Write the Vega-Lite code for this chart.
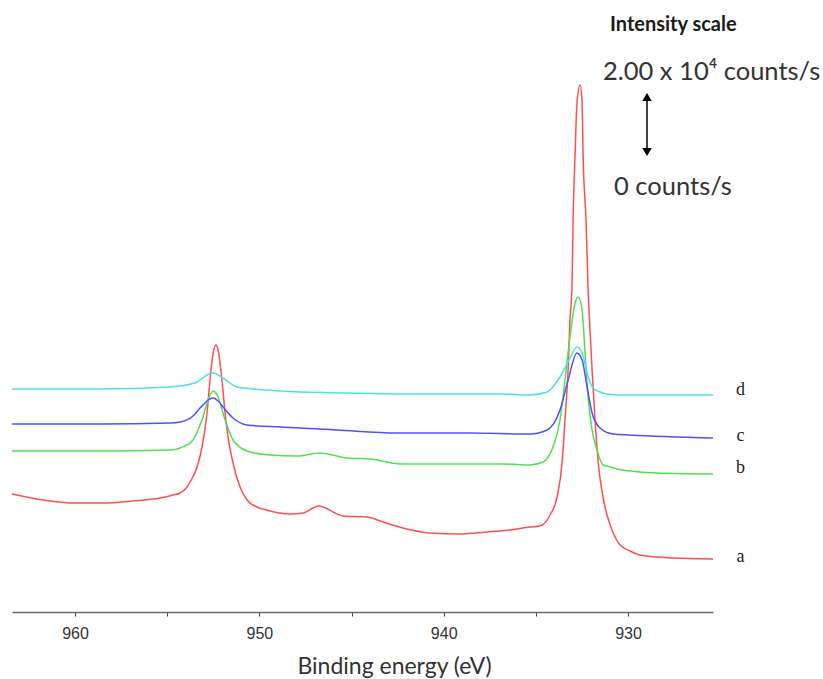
{
  "$schema": "https://vega.github.io/schema/vega-lite/v6.json",
  "autosize": "none",
  "width": 701,
  "height": 612,
  "padding": {"left": 12, "top": 0, "right": 110, "bottom": 67},
  "background": "white",
  "config": {"view": {"stroke": null}},
  "datasets": {
    "curves": [
      {"s":"a","e":963.42,"i":118},{"s":"a","e":961.36,"i":111},{"s":"a","e":960.11,"i":109},{"s":"a","e":958.64,"i":109},{"s":"a","e":956.85,"i":111},{"s":"a","e":955.39,"i":114},{"s":"a","e":954.68,"i":117},{"s":"a","e":954.30,"i":119},{"s":"a","e":953.92,"i":125},{"s":"a","e":953.76,"i":130},{"s":"a","e":953.38,"i":145},{"s":"a","e":953.11,"i":165},{"s":"a","e":952.84,"i":199},{"s":"a","e":952.68,"i":232},{"s":"a","e":952.51,"i":259},{"s":"a","e":952.35,"i":267},{"s":"a","e":952.24,"i":262},{"s":"a","e":952.03,"i":232},{"s":"a","e":951.86,"i":199},{"s":"a","e":951.70,"i":175},{"s":"a","e":951.43,"i":149},{"s":"a","e":951.05,"i":125},{"s":"a","e":950.67,"i":112},{"s":"a","e":950.13,"i":105},{"s":"a","e":949.42,"i":101},{"s":"a","e":948.88,"i":99},{"s":"a","e":948.34,"i":98},{"s":"a","e":947.63,"i":99},{"s":"a","e":947.09,"i":104},{"s":"a","e":946.75,"i":106},{"s":"a","e":946.40,"i":104},{"s":"a","e":946.00,"i":100},{"s":"a","e":945.46,"i":96},{"s":"a","e":944.16,"i":95},{"s":"a","e":943.29,"i":90},{"s":"a","e":942.21,"i":84},{"s":"a","e":940.74,"i":79},{"s":"a","e":939.28,"i":78},{"s":"a","e":937.65,"i":80},{"s":"a","e":936.40,"i":82},{"s":"a","e":935.32,"i":85},{"s":"a","e":934.77,"i":86},{"s":"a","e":934.23,"i":97},{"s":"a","e":933.85,"i":115},{"s":"a","e":933.58,"i":149},{"s":"a","e":933.42,"i":192},{"s":"a","e":933.25,"i":242},{"s":"a","e":933.15,"i":292},{"s":"a","e":933.04,"i":325},{"s":"a","e":932.98,"i":392},{"s":"a","e":932.87,"i":459},{"s":"a","e":932.77,"i":509},{"s":"a","e":932.60,"i":527},{"s":"a","e":932.49,"i":509},{"s":"a","e":932.44,"i":459},{"s":"a","e":932.28,"i":392},{"s":"a","e":932.17,"i":325},{"s":"a","e":932.06,"i":282},{"s":"a","e":931.95,"i":242},{"s":"a","e":931.79,"i":192},{"s":"a","e":931.62,"i":150},{"s":"a","e":931.36,"i":115},{"s":"a","e":931.14,"i":97},{"s":"a","e":930.87,"i":82},{"s":"a","e":930.43,"i":67},{"s":"a","e":929.89,"i":61},{"s":"a","e":929.35,"i":57},{"s":"a","e":927.56,"i":54},{"s":"a","e":925.39,"i":53},

      {"s":"b","e":963.42,"i":161},{"s":"b","e":958.64,"i":161},{"s":"b","e":954.85,"i":162},{"s":"b","e":954.30,"i":164},{"s":"b","e":953.60,"i":172},{"s":"b","e":953.22,"i":187},{"s":"b","e":953.11,"i":192},{"s":"b","e":952.78,"i":212},{"s":"b","e":952.51,"i":221},{"s":"b","e":952.24,"i":215},{"s":"b","e":951.86,"i":192},{"s":"b","e":951.43,"i":172},{"s":"b","e":950.67,"i":161},{"s":"b","e":949.42,"i":157},{"s":"b","e":947.96,"i":156},{"s":"b","e":946.71,"i":159},{"s":"b","e":945.24,"i":154},{"s":"b","e":944.00,"i":153},{"s":"b","e":942.21,"i":148},{"s":"b","e":939.49,"i":148},{"s":"b","e":936.78,"i":148},{"s":"b","e":935.32,"i":147},{"s":"b","e":934.61,"i":150},{"s":"b","e":934.07,"i":165},{"s":"b","e":933.69,"i":192},{"s":"b","e":933.42,"i":232},{"s":"b","e":933.15,"i":275},{"s":"b","e":932.87,"i":309},{"s":"b","e":932.71,"i":315},{"s":"b","e":932.49,"i":302},{"s":"b","e":932.33,"i":259},{"s":"b","e":932.17,"i":215},{"s":"b","e":931.95,"i":182},{"s":"b","e":931.68,"i":162},{"s":"b","e":931.36,"i":147},{"s":"b","e":931.14,"i":146},{"s":"b","e":930.60,"i":143},{"s":"b","e":928.43,"i":139},{"s":"b","e":925.39,"i":138},

      {"s":"c","e":963.42,"i":188},{"s":"c","e":958.64,"i":188},{"s":"c","e":954.85,"i":189},{"s":"c","e":954.30,"i":190},{"s":"c","e":953.60,"i":196},{"s":"c","e":953.22,"i":204},{"s":"c","e":953.06,"i":207},{"s":"c","e":952.78,"i":212},{"s":"c","e":952.51,"i":214},{"s":"c","e":952.24,"i":211},{"s":"c","e":951.97,"i":205},{"s":"c","e":951.43,"i":194},{"s":"c","e":950.67,"i":187},{"s":"c","e":948.88,"i":185},{"s":"c","e":945.79,"i":182},{"s":"c","e":942.53,"i":179},{"s":"c","e":938.57,"i":179},{"s":"c","e":935.32,"i":178},{"s":"c","e":934.39,"i":182},{"s":"c","e":933.69,"i":202},{"s":"c","e":933.25,"i":232},{"s":"c","e":932.77,"i":259},{"s":"c","e":932.49,"i":252},{"s":"c","e":932.22,"i":225},{"s":"c","e":931.95,"i":199},{"s":"c","e":931.52,"i":184},{"s":"c","e":930.81,"i":178},{"s":"c","e":929.89,"i":177},{"s":"c","e":925.39,"i":174},

      {"s":"d","e":963.42,"i":223},{"s":"d","e":958.64,"i":223},{"s":"d","e":954.85,"i":225},{"s":"d","e":954.30,"i":226},{"s":"d","e":953.38,"i":230},{"s":"d","e":952.84,"i":237},{"s":"d","e":952.51,"i":239},{"s":"d","e":951.97,"i":234},{"s":"d","e":951.21,"i":225},{"s":"d","e":950.34,"i":223},{"s":"d","e":948.88,"i":221},{"s":"d","e":945.24,"i":219},{"s":"d","e":942.21,"i":218},{"s":"d","e":936.78,"i":218},{"s":"d","e":935.32,"i":217},{"s":"d","e":934.39,"i":220},{"s":"d","e":933.69,"i":235},{"s":"d","e":933.15,"i":254},{"s":"d","e":932.77,"i":265},{"s":"d","e":932.49,"i":259},{"s":"d","e":932.22,"i":239},{"s":"d","e":931.90,"i":224},{"s":"d","e":931.52,"i":220},{"s":"d","e":931.14,"i":218},{"s":"d","e":930.43,"i":217},{"s":"d","e":925.39,"i":217}
    ],
    "labels": [
      {"s":"a","e":923.9,"i":55},
      {"s":"b","e":923.9,"i":144},
      {"s":"c","e":923.9,"i":176},
      {"s":"d","e":923.9,"i":222}
    ],
    "title": [
      {"t":"Intensity scale","e":930.98,"i":587}
    ],
    "notes": [
      {"t":"2.00 x 10⁴ counts/s","e":931.36,"i":540},
      {"t":"0 counts/s","e":930.76,"i":425}
    ],
    "arrow": [
      {"e":928.97,"i1":514,"i2":461}
    ],
    "heads": [
      {"e":928.97,"i":515,"shape":"triangle-up"},
      {"e":928.97,"i":460,"shape":"triangle-down"}
    ]
  },
  "layer": [
    {
      "data": {"name": "curves"},
      "mark": {"type": "line", "strokeWidth": 1.5, "clip": false, "interpolate": "monotone"},
      "encoding": {
        "x": {
          "field": "e", "type": "quantitative",
          "scale": {"domain": [925.39, 963.42], "reverse": true, "nice": false, "zero": false},
          "axis": {
            "values": [930, 935, 940, 945, 950, 955, 960],
            "labelExpr": "datum.value % 10 === 0 ? datum.label : ''",
            "format": "d",
            "grid": false,
            "domainColor": "#6a6a6a",
            "domainWidth": 1.5,
            "tickColor": "#444444",
            "tickSize": 4,
            "tickWidth": 1,
            "labelFont": "Liberation Sans",
            "labelFontSize": 16,
            "labelFontWeight": "normal",
            "labelColor": "#333333",
            "labelPadding": 9,
            "title": "Binding energy (eV)",
            "titleFont": "Lato",
            "titleFontSize": 23,
            "titleFontWeight": "normal",
            "titleColor": "#333333",
            "titleX": 382,
            "titleY": 54,
            "titleBaseline": "middle"
          }
        },
        "y": {
          "field": "i", "type": "quantitative",
          "scale": {"domain": [0, 612], "nice": false, "zero": false},
          "axis": null
        },
        "color": {
          "field": "s", "type": "nominal",
          "scale": {"domain": ["a", "b", "c", "d"], "range": ["#ff4f4f", "#50e050", "#5050ff", "#50e0e0"]},
          "legend": null
        },
        "order": {"field": "e", "type": "quantitative"}
      }
    },
    {
      "data": {"name": "labels"},
      "mark": {"type": "text", "font": "Liberation Serif", "fontSize": 18, "align": "center", "baseline": "middle", "color": "#222222"},
      "encoding": {
        "x": {"field": "e", "type": "quantitative"},
        "y": {"field": "i", "type": "quantitative"},
        "text": {"field": "s"}
      }
    },
    {
      "data": {"name": "title"},
      "mark": {"type": "text", "font": "Lato", "fontSize": 20, "fontWeight": "bold", "align": "left", "baseline": "middle", "color": "#1a1a1a"},
      "encoding": {
        "x": {"field": "e", "type": "quantitative"},
        "y": {"field": "i", "type": "quantitative"},
        "text": {"field": "t"}
      }
    },
    {
      "data": {"name": "notes"},
      "mark": {"type": "text", "font": "Lato", "fontSize": 25.5, "align": "left", "baseline": "middle", "color": "#333333"},
      "encoding": {
        "x": {"field": "e", "type": "quantitative"},
        "y": {"field": "i", "type": "quantitative"},
        "text": {"field": "t"}
      }
    },
    {
      "data": {"name": "arrow"},
      "mark": {"type": "rule", "color": "black", "strokeWidth": 1.5},
      "encoding": {
        "x": {"field": "e", "type": "quantitative"},
        "y": {"field": "i1", "type": "quantitative"},
        "y2": {"field": "i2"}
      }
    },
    {
      "data": {"name": "heads"},
      "mark": {"type": "point", "filled": true, "color": "black", "size": 90, "opacity": 1},
      "encoding": {
        "x": {"field": "e", "type": "quantitative"},
        "y": {"field": "i", "type": "quantitative"},
        "shape": {"field": "shape", "type": "nominal", "scale": null}
      }
    }
  ]
}
